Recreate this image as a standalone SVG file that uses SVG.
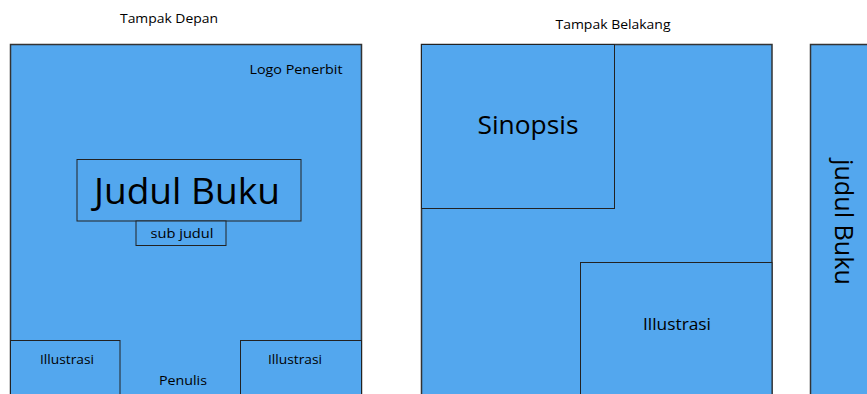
<svg xmlns="http://www.w3.org/2000/svg" width="867" height="394" viewBox="0 0 867 394">
<style>
.p{fill:#53a7ee;stroke:#333;stroke-width:1.5}
.b{fill:#53a7ee;stroke:#222;stroke-width:1}
text{font-family:"Open Sans","Noto Sans",sans-serif;fill:#000;text-anchor:middle}
.s{font-size:13px}
</style>
<rect width="867" height="394" fill="#fff"/>
<text class="s" x="169" y="23" textLength="98" lengthAdjust="spacingAndGlyphs">Tampak Depan</text>
<text class="s" x="613" y="29" textLength="115" lengthAdjust="spacingAndGlyphs">Tampak Belakang</text>
<g id="front">
<rect class="p" x="10.5" y="44.5" width="351" height="360"/>
<text class="s" x="296" y="74" textLength="93" lengthAdjust="spacingAndGlyphs">Logo Penerbit</text>
</g>
<g id="judul">
<rect class="b" x="77" y="159.5" width="224" height="61.5"/>
<text x="187" y="204" font-size="37" textLength="186" lengthAdjust="spacingAndGlyphs">Judul Buku</text>
</g>
<g id="subjudul">
<rect class="b" x="136" y="221" width="90" height="24.5"/>
<text class="s" x="182" y="238" textLength="63" lengthAdjust="spacingAndGlyphs">sub judul</text>
</g>
<g id="ilus-kiri">
<rect class="b" x="10.5" y="340.5" width="109.5" height="60"/>
<text class="s" x="67" y="364" textLength="54" lengthAdjust="spacingAndGlyphs">Illustrasi</text>
</g>
<g id="ilus-kanan">
<rect class="b" x="240.5" y="340.5" width="121" height="60"/>
<text class="s" x="295" y="364" textLength="54" lengthAdjust="spacingAndGlyphs">Illustrasi</text>
</g>
<g id="penulis">
<text class="s" x="183" y="385" textLength="48" lengthAdjust="spacingAndGlyphs">Penulis</text>
</g>
<g id="back">
<rect class="p" x="421.5" y="44.5" width="350.5" height="360"/>
</g>
<g id="sinopsis">
<rect class="b" x="421.5" y="44.5" width="193" height="164"/>
<text x="528" y="134" font-size="26" textLength="101" lengthAdjust="spacingAndGlyphs">Sinopsis</text>
</g>
<g id="ilus-belakang">
<rect class="b" x="580.5" y="262.5" width="191.5" height="140"/>
<text x="677" y="330" font-size="17" textLength="68" lengthAdjust="spacingAndGlyphs">Illustrasi</text>
</g>
<g id="spine">
<rect class="p" x="810.5" y="44.5" width="70" height="360"/>
<text x="0" y="0" font-size="25" transform="translate(835 222) rotate(90)" textLength="126" lengthAdjust="spacingAndGlyphs">judul Buku</text>
</g>
<g id="connectors"></g>
</svg>
